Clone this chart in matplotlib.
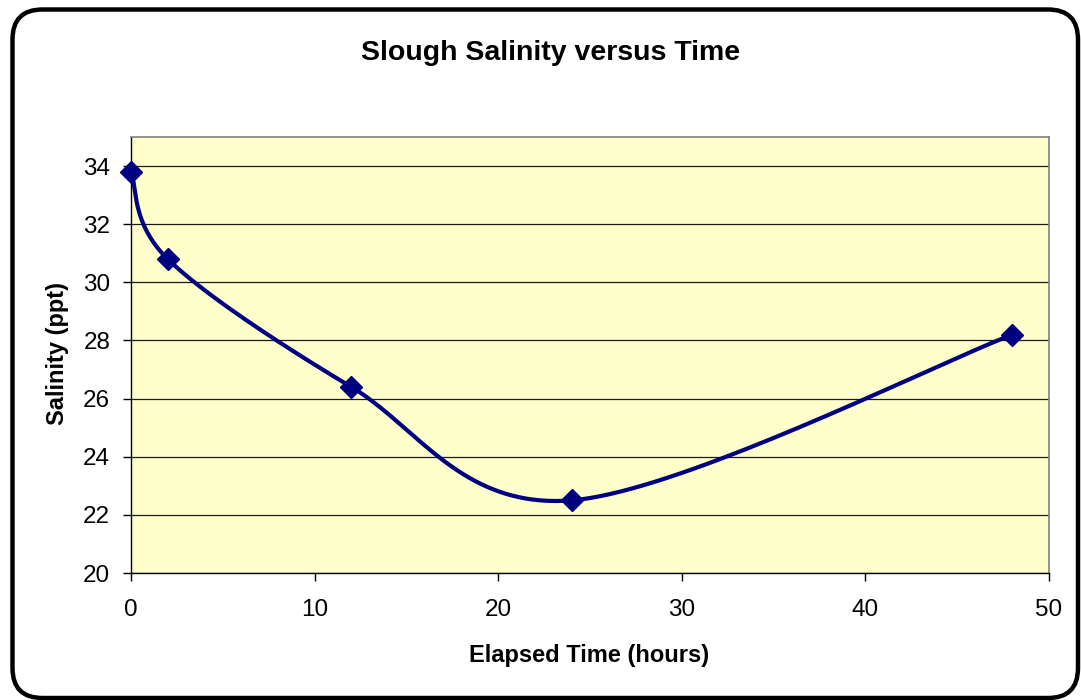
import numpy as np
import matplotlib
matplotlib.use('Agg')
import matplotlib.pyplot as plt
from matplotlib.patches import FancyBboxPatch

# data
hours = [0, 2, 12, 24, 48]
salinity = [33.8, 30.8, 26.4, 22.5, 28.2]
x_ticks = [0, 10, 20, 30, 40, 50]
y_ticks = [20, 22, 24, 26, 28, 30, 32, 34]

plt.rcParams['font.family'] = ['Liberation Sans', 'DejaVu Sans']

navy = '#000080'

fig = plt.figure(figsize=(10.81, 7.0), dpi=100)
ax = fig.add_axes([0.1212, 0.1814, 0.8492, 0.6229])
ax.set_facecolor('#FFFFCC')
ax.set_xlim(0, 50)
ax.set_ylim(20, 35)
ax.set_xticks(x_ticks)
ax.set_yticks(y_ticks)
ax.tick_params(axis='both', direction='out', length=6, width=1, color='#000000',
               labelsize=17.5)
ax.tick_params(axis='y', pad=9)
ax.tick_params(axis='x', pad=13)
for side in ['top', 'right']:
    ax.spines[side].set_color('#808080')
    ax.spines[side].set_linewidth(1.2)
for side in ['left', 'bottom']:
    ax.spines[side].set_color('#000000')
    ax.spines[side].set_linewidth(1.0)
ax.yaxis.grid(True, color='#1a1a1a', linewidth=0.9)
ax.set_axisbelow(True)


def smooth(xs, ys, n=40):
    # Excel-like smoothed line: Catmull-Rom bezier in screen space
    pts = ax.transData.transform(np.column_stack([xs, ys]))
    P = np.vstack([pts[0], pts, pts[-1]])
    out = []
    for i in range(1, len(P) - 2):
        p0, p1, p2, p3 = P[i - 1], P[i], P[i + 1], P[i + 2]
        c1 = p1 + (p2 - p0) / 6.0
        c2 = p2 - (p3 - p1) / 6.0
        t = np.linspace(0, 1, n)[:, None]
        seg = ((1 - t) ** 3) * p1 + 3 * ((1 - t) ** 2) * t * c1 + 3 * (1 - t) * t ** 2 * c2 + t ** 3 * p2
        out.append(seg if i == 1 else seg[1:])
    out = np.vstack(out)
    back = ax.transData.inverted().transform(out)
    return back[:, 0], back[:, 1]


sx, sy = smooth(hours, salinity)
ax.plot(sx, sy, color=navy, linewidth=3.0, zorder=3, clip_on=False)
ax.plot(hours, salinity, linestyle='none', marker='D', markersize=11,
        color=navy, zorder=4, clip_on=False)

fig.text(0.509, 0.925, 'Slough Salinity versus Time', ha='center', va='center',
         fontsize=20.5, fontweight='bold')
fig.text(0.545, 0.064, 'Elapsed Time (hours)', ha='center', va='center',
         fontsize=17, fontweight='bold')
fig.text(0.0535, 0.4957, 'Salinity (ppt)', ha='center', va='center',
         rotation=90, fontsize=17, fontweight='bold')

# rounded chart frame
frame = FancyBboxPatch((0.125, 0.02), 10.655, 6.885,
                       boxstyle='round,pad=0,rounding_size=0.3',
                       transform=fig.dpi_scale_trans, facecolor='none',
                       edgecolor='#000000', linewidth=3.2, clip_on=False)
fig.patches.append(frame)

fig.savefig('out.png', dpi=100)
